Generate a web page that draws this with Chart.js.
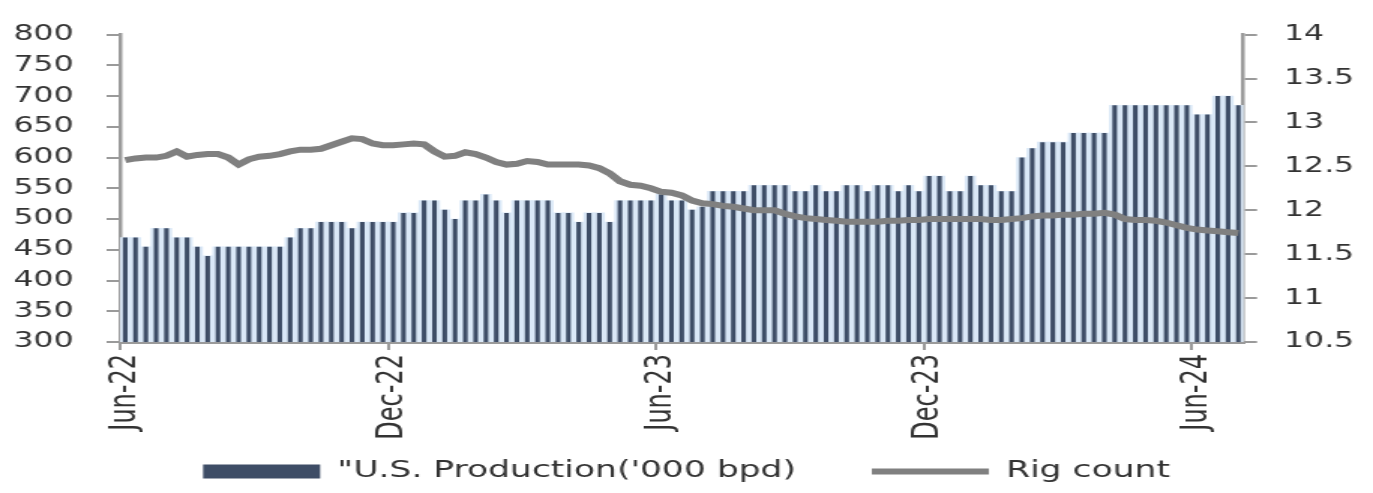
<!DOCTYPE html>
<html>
<head>
<meta charset="utf-8">
<script src="https://cdn.jsdelivr.net/npm/chart.js@4.4.0/dist/chart.umd.min.js"></script>
<style>
  html, body { margin: 0; padding: 0; background: #ffffff; }
</style>
</head>
<body>
<!-- canvas drawn 915px wide and shown 1.5x wider, like the source picture -->
<canvas id="chart" width="915" height="493" style="display:block;width:1373px;height:493px"></canvas>
<script>
// weekly categories, Jun-22 .. Jul-24
var weeks = [];
var start = new Date(2022, 5, 10);
for (var w = 0; w < 109; w++) {
    var d = new Date(start.getTime() + w * 7 * 86400000);
    weeks.push(d.toISOString().slice(0, 10));
}

var tickLabels = ["Jun-22", "Dec-22", "Jun-23", "Dec-23", "Jun-24"];
var tickIdx = [0, 26, 52, 78, 104];

// bars, left axis
var production = [
    470, 470, 455, 485, 485, 470, 470, 455, 440, 455,
    455, 455, 455, 455, 455, 455, 470, 485, 485, 495,
    495, 495, 485, 495, 495, 495, 495, 510, 510, 530,
    530, 515, 500, 530, 530, 540, 530, 510, 530, 530,
    530, 530, 510, 510, 495, 510, 510, 495, 530, 530,
    530, 530, 540, 530, 530, 515, 520, 545, 545, 545,
    545, 555, 555, 555, 555, 545, 545, 555, 545, 545,
    555, 555, 545, 555, 555, 545, 555, 545, 570, 570,
    545, 545, 570, 555, 555, 545, 545, 600, 615, 625,
    625, 625, 640, 640, 640, 640, 685, 685, 685, 685,
    685, 685, 685, 685, 670, 670, 700, 700, 685
];

// line, right axis
var rigCount = [
    12.57, 12.59, 12.60, 12.60, 12.62, 12.67, 12.61, 12.63, 12.64, 12.64,
    12.60, 12.52, 12.58, 12.61, 12.62, 12.64, 12.67, 12.69, 12.69, 12.70,
    12.74, 12.78, 12.82, 12.81, 12.76, 12.74, 12.74, 12.75, 12.76, 12.75,
    12.67, 12.61, 12.62, 12.66, 12.64, 12.60, 12.55, 12.52, 12.53, 12.56,
    12.55, 12.52, 12.52, 12.52, 12.52, 12.51, 12.48, 12.42, 12.33, 12.29,
    12.28, 12.25, 12.21, 12.20, 12.17, 12.11, 12.08, 12.07, 12.05, 12.04,
    12.02, 12.00, 12.00, 12.00, 11.96, 11.93, 11.91, 11.90, 11.89, 11.88,
    11.87, 11.87, 11.87, 11.87, 11.88, 11.88, 11.89, 11.89, 11.90, 11.90,
    11.90, 11.90, 11.90, 11.90, 11.89, 11.89, 11.90, 11.91, 11.93, 11.94,
    11.94, 11.95, 11.95, 11.96, 11.96, 11.97, 11.95, 11.90, 11.89, 11.89,
    11.88, 11.86, 11.83, 11.80, 11.78, 11.77, 11.76, 11.75, 11.74
];

var axisGrey = '#9a9a9a';
var textCol = '#333333';
var fam = "'DejaVu Sans', sans-serif";

var ctx = document.getElementById("chart");

var data = {
    labels: weeks,
    datasets: [{
        label: "\"U.S. Production('000 bpd)",
        data: production,
        yAxisID: 'y',
        backgroundColor: '#3e4d66',
        borderWidth: 0,
        barPercentage: 0.45,
        categoryPercentage: 1,
        grouped: false,
        pointStyle: 'rect',
        order: 1
    }, {
        label: 'bar shade',
        data: production,
        yAxisID: 'y',
        backgroundColor: '#dae8f7',
        borderWidth: 0,
        barPercentage: 1,
        categoryPercentage: 1,
        grouped: false,
        order: 2
    }, {
        type: 'line',
        label: 'Rig count',
        data: rigCount,
        yAxisID: 'y1',
        borderColor: '#808080',
        backgroundColor: '#808080',
        borderWidth: 6,
        pointRadius: 0,
        tension: 0,
        pointStyle: 'line',
        order: 0
    }]
};

var options = {
    responsive: false,
    animation: false,
    devicePixelRatio: 1,
    layout: { padding: { top: 20, left: 0, right: 0, bottom: 0 } },
    plugins: {
        tooltip: { enabled: false },
        legend: {
            position: 'bottom',
            labels: {
                usePointStyle: true,
                pointStyleWidth: 78,
                boxHeight: 14,
                padding: 14,
                color: textCol,
                font: { family: fam, size: 23 },
                filter: function(item) { return item.datasetIndex !== 1; },
                sort: function(a, b) { return a.datasetIndex - b.datasetIndex; },
                generateLabels: function(chart) {
                    var items = Chart.defaults.plugins.legend.labels.generateLabels(chart);
                    // wider gap after the first entry
                    items.forEach(function(it) {
                        if (it.datasetIndex === 0) it.text = it.text + '     ';
                    });
                    return items;
                }
            }
        }
    },
    scales: {
        x: {
            offset: true,
            afterFit: function(scale) { scale.height = 104; },
            grid: {
                display: true,
                drawOnChartArea: false,
                drawTicks: true,
                tickLength: 8,
                offset: true,
                lineWidth: 2,
                color: function(c) {
                    return tickIdx.indexOf(c.index) >= 0 ? axisGrey : 'rgba(0,0,0,0)';
                }
            },
            border: { display: true, color: axisGrey, width: 3 },
            ticks: {
                autoSkip: false,
                maxRotation: 90,
                minRotation: 90,
                padding: 4,
                color: textCol,
                font: { family: fam, size: 24 },
                callback: function(v, i) {
                    var k = tickIdx.indexOf(i);
                    return k >= 0 ? tickLabels[k] : '';
                }
            }
        },
        y: {
            position: 'left',
            min: 300,
            max: 800,
            afterFit: function(scale) { scale.width = 80; },
            grid: { drawOnChartArea: false, tickLength: 9, color: axisGrey, lineWidth: 2 },
            border: { display: true, color: axisGrey, width: 2.5 },
            ticks: {
                stepSize: 50,
                padding: 22,
                color: textCol,
                font: { family: fam, size: 21 }
            }
        },
        y1: {
            position: 'right',
            min: 10.5,
            max: 14,
            afterFit: function(scale) { scale.width = 86.3; },
            grid: { drawOnChartArea: false, tickLength: 9, color: axisGrey, lineWidth: 2 },
            border: { display: true, color: axisGrey, width: 2.5 },
            ticks: {
                stepSize: 0.5,
                padding: 18,
                color: textCol,
                font: { family: fam, size: 21 },
                callback: function(v) { return v; }
            }
        }
    }
};

var chart = new Chart(ctx, {
    type: 'bar',
    data: data,
    options: options
});
</script>
</body>
</html>
